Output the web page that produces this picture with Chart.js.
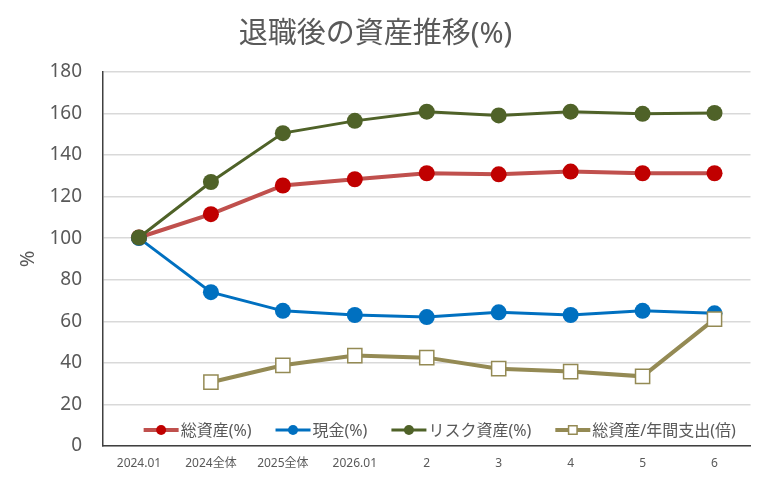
<!DOCTYPE html>
<html>
<head>
<meta charset="utf-8">
<script src="https://cdn.jsdelivr.net/npm/chart.js@4.4.1/dist/chart.umd.min.js"></script>
<style>
  body { margin: 0; background: #fff; }
  #wrap { width: 762px; height: 491px; }
</style>
</head>
<body>
<div id="wrap"><canvas id="assetChart" width="762" height="491"></canvas></div>
<script>
// -------------------- DATA --------------------
const categories = ['2024.01', '2024全体', '2025全体', '2026.01', '2', '3', '4', '5', '6'];
const totalAssets = [100.3, 111.5, 125.3, 128.3, 131.2, 130.7, 132, 131.2, 131.2];
const cash = [100, 74, 65, 63, 62, 64.3, 63, 65, 63.8];
const riskAssets = [100.3, 127, 150.5, 156.4, 160.8, 159, 160.8, 159.8, 160.2];
const assetToSpending = [null, 30.7, 38.8, 43.5, 42.5, 37.2, 35.8, 33.5, 61];
const yTicks = [0, 20, 40, 60, 80, 100, 120, 140, 160, 180];

const seriesLabels = ['総資産(%)', '現金(%)', 'リスク資産(%)', '総資産/年間支出(倍)'];

const gray = '#595959';
const jpFont = '"Noto Sans", "Noto Sans CJK JP", sans-serif';
Chart.defaults.font.family = jpFont;
Chart.defaults.color = gray;

// -------------------- LEGEND INSIDE THE PLOT --------------------
const insideLegend = {
  id: 'insideLegend',
  afterDraw(chart) {
    const { ctx, chartArea } = chart;
    const lineLen = 35, gapText = 2, gapItem = 24;
    ctx.save();
    ctx.font = '16px ' + jpFont;
    const widths = chart.data.datasets.map(ds => lineLen + gapText + ctx.measureText(ds.label).width);
    const total = widths.reduce((a, b) => a + b, 0) + gapItem * (widths.length - 1);
    let x = (chartArea.left + chartArea.right) / 2 + 13 - total / 2;
    const y = 430;
    chart.data.datasets.forEach((ds, i) => {
      ctx.strokeStyle = ds.borderColor;
      ctx.lineWidth = ds.borderWidth;
      ctx.beginPath();
      ctx.moveTo(x, y);
      ctx.lineTo(x + lineLen, y);
      ctx.stroke();
      ctx.fillStyle = ds.pointBackgroundColor;
      ctx.strokeStyle = ds.pointBorderColor;
      ctx.lineWidth = ds.pointBorderWidth;
      Chart.helpers.drawPoint(ctx, {
        pointStyle: ds.pointStyle,
        radius: ds.pointStyle === 'rect' ? 6 : 5,
        rotation: 0,
        borderWidth: ds.pointBorderWidth
      }, x + lineLen / 2, y);
      ctx.fillStyle = gray;
      ctx.textBaseline = 'middle';
      ctx.textAlign = 'left';
      ctx.fillText(ds.label, x + lineLen + gapText, y + 1);
      x += widths[i] + gapItem;
    });
    ctx.restore();
  }
};

// -------------------- CHART --------------------
const ctx = document.getElementById('assetChart').getContext('2d');

new Chart(ctx, {
  type: 'line',
  data: {
    labels: categories,
    datasets: [
      {
        label: seriesLabels[0],
        data: totalAssets,
        borderColor: '#c0504d',
        borderWidth: 4,
        pointBackgroundColor: '#c00000',
        pointBorderColor: '#c00000',
        pointBorderWidth: 0,
        pointRadius: 8,
        pointStyle: 'circle',
        order: 4
      },
      {
        label: seriesLabels[1],
        data: cash,
        borderColor: '#0070c0',
        borderWidth: 3,
        pointBackgroundColor: '#0070c0',
        pointBorderColor: '#0070c0',
        pointBorderWidth: 0,
        pointRadius: 8,
        pointStyle: 'circle',
        order: 3
      },
      {
        label: seriesLabels[2],
        data: riskAssets,
        borderColor: '#4f6228',
        borderWidth: 3,
        pointBackgroundColor: '#4f6228',
        pointBorderColor: '#4f6228',
        pointBorderWidth: 0,
        pointRadius: 8,
        pointStyle: 'circle',
        order: 2
      },
      {
        label: seriesLabels[3],
        data: assetToSpending,
        borderColor: '#948a54',
        borderWidth: 4,
        pointBackgroundColor: '#ffffff',
        pointBorderColor: '#948a54',
        pointBorderWidth: 1.5,
        pointRadius: 10,
        pointStyle: 'rect',
        order: 1
      }
    ]
  },
  options: {
    responsive: false,
    animation: false,
    layout: { padding: { left: 0, right: 11, top: 0, bottom: 0 } },
    elements: { line: { tension: 0 } },
    plugins: {
      legend: { display: false },
      tooltip: { enabled: false },
      title: {
        display: true,
        text: '退職後の資産推移(%)',
        color: gray,
        font: { size: 29, weight: 'normal', family: jpFont },
        padding: { top: 17, bottom: 20 }
      }
    },
    scales: {
      x: {
        offset: true,
        grid: { display: false, drawTicks: false },
        border: { display: true, color: '#404040', width: 1.5 },
        ticks: { font: { size: 12 }, color: gray, padding: 10, maxRotation: 0, autoSkip: false },
        afterFit(scale) { scale.height = 45; }
      },
      y: {
        min: 0,
        max: 180,
        afterBuildTicks(scale) { scale.ticks = yTicks.map(v => ({ value: v })); },
        grid: { color: '#d9d9d9', lineWidth: 1.5, drawTicks: false },
        border: { display: true, color: '#404040', width: 1.5 },
        ticks: { font: { size: 19 }, color: gray, padding: 21 },
        title: { display: true, text: '%', color: gray, font: { size: 20 }, padding: { top: 16, bottom: 0 } },
        afterFit(scale) { scale.width = 103; }
      }
    }
  },
  plugins: [insideLegend]
});
</script>
</body>
</html>
